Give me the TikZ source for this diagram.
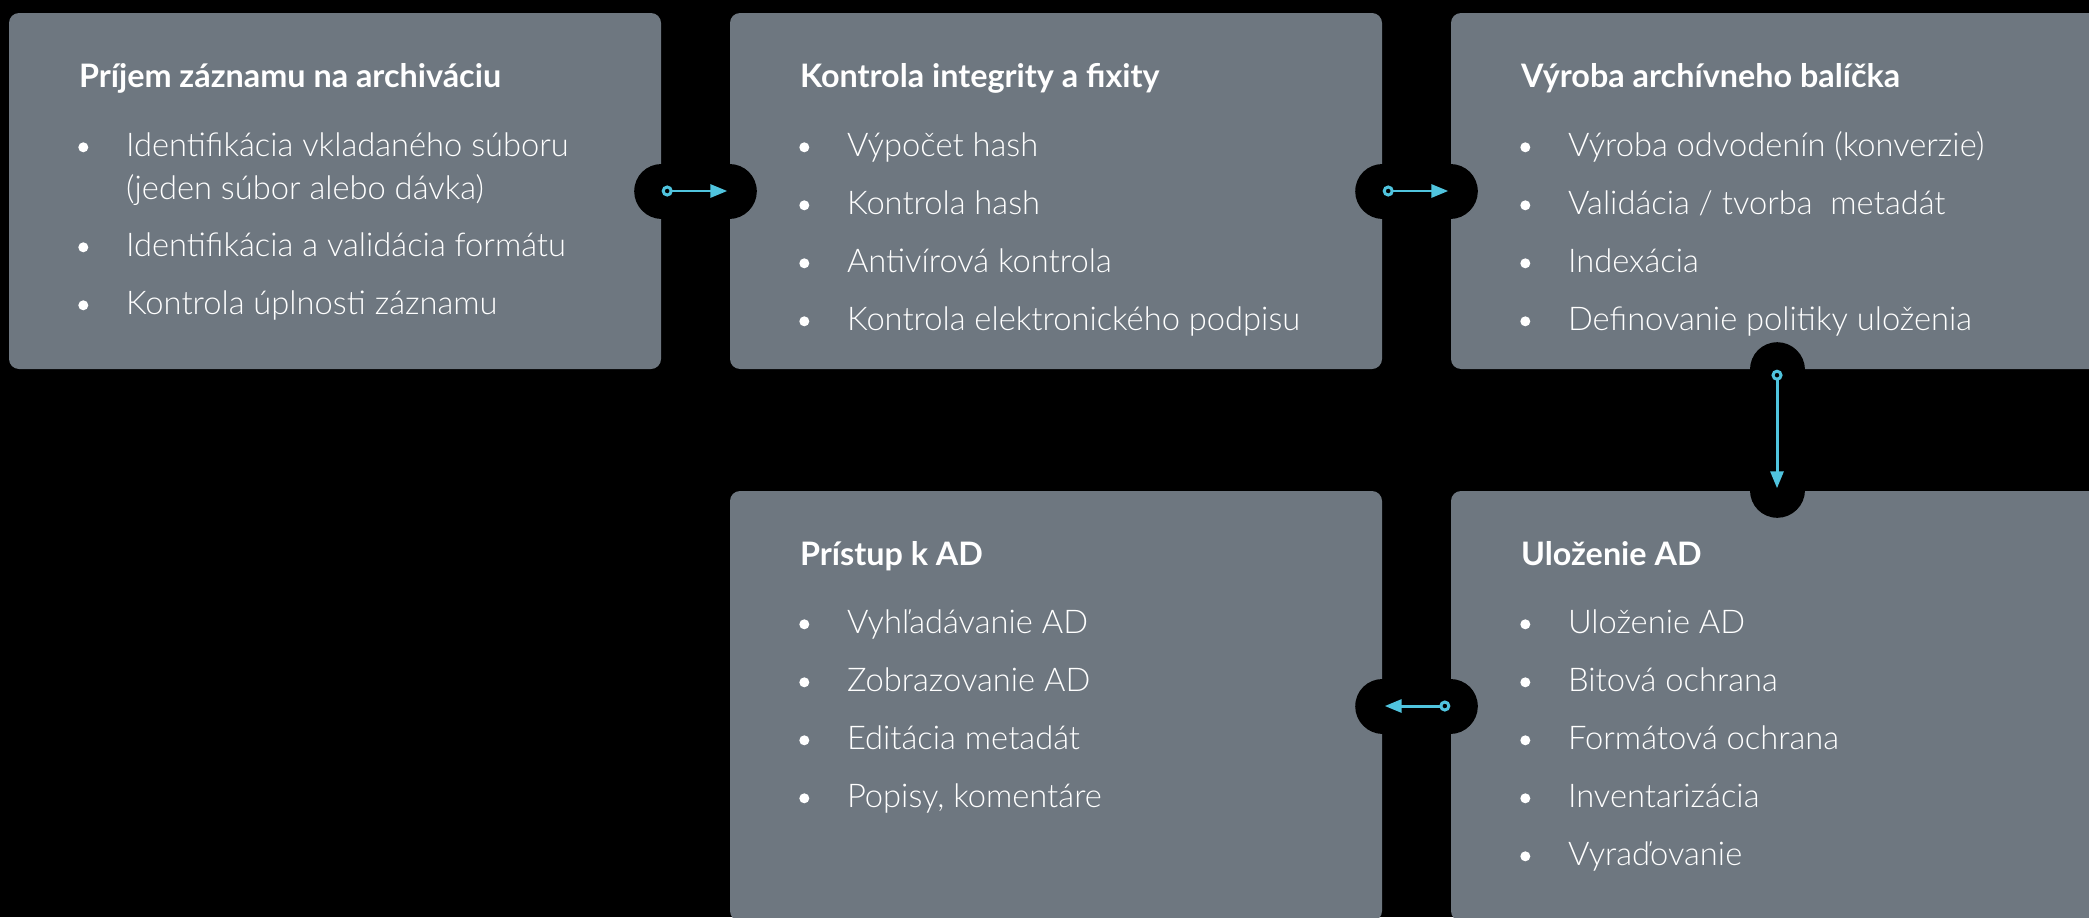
\documentclass[tikz,border=0pt]{standalone}
\usepackage{fontspec}
\setmainfont{Lato}[UprightFont={* Light},BoldFont={* Bold}]
\usetikzlibrary{arrows.meta}
\definecolor{boxgray}{RGB}{110,119,128}
\definecolor{linkblue}{RGB}{80,196,222}

\begin{document}
\begin{tikzpicture}[x=0.1mm,y=-0.1mm,line cap=round,line join=round,
	box/.style={fill=boxgray,rounded corners=1mm,minimum width=65.2mm,minimum height=35.6mm,inner sep=0pt},
	tallbox/.style={box,minimum height=43mm},
	plug/.style={black,line width=5.5mm},
	link/.style={draw=linkblue,line width=0.85pt,{Circle[open,length=1.1mm,width=1.1mm]}-{Triangle[length=1.7mm,width=1.3mm]}},
	head/.style={anchor=base west,inner sep=0pt,text=white,font=\bfseries\fontsize{9.2}{11}\selectfont},
	item/.style={anchor=base west,inner sep=0pt,text=white,font=\fontsize{9.3}{11}\selectfont}]
	\useasboundingbox (0,0) rectangle (2089,917);
	\fill[black] (0,0) rectangle (2089,917);
	\clip (0,0) rectangle (2089,917);
	\node[box] (b1) at (335,191) {};
	\node[box] (b2) at (1056,191) {};
	\node[box] (b3) at (1777,191) {};
	\node[tallbox] (b4) at (1056,706) {};
	\node[tallbox] (b5) at (1777,706) {};
	\draw[plug] (b1.east) -- (b2.west);
	\draw[plug] (b2.east) -- (b3.west);
	\draw[plug] (b3.south) -- (b5.north);
	\draw[plug] (b5.west) -- (b4.east);
	\draw[link,shorten >=0.2mm] (b1.east) -- (b2.west);
	\draw[link,shorten >=0.2mm] (b2.east) -- (b3.west);
	\draw[link,shorten >=0.2mm] (b3.south) -- (b5.north);
	\draw[link,shorten >=0.2mm] (b5.west) -- (b4.east);
	\node[head] (h1) at ([shift={(70,75)}]b1.north west) {Príjem záznamu na archiváciu};
	\node[head] (h2) at ([shift={(70,75)}]b2.north west) {Kontrola integrity a fixity};
	\node[head] (h3) at ([shift={(70,75)}]b3.north west) {Výroba archívneho balíčka};
	\node[head] (h4) at ([shift={(70,75)}]b4.north west) {Prístup k AD};
	\node[head] (h5) at ([shift={(70,75)}]b5.north west) {Uloženie AD};
	\node[item] (b1i0) at ([shift={(117,144)}]b1.north west) {Identifikácia vkladaného súboru};
	\node[item] (b1w0) at ([shift={(117,187)}]b1.north west) {(jeden súbor alebo dávka)};
	\node[item] (b1i1) at ([shift={(117,244)}]b1.north west) {Identifikácia a validácia formátu};
	\node[item] (b1i2) at ([shift={(117,302)}]b1.north west) {Kontrola úplnosti záznamu};
	\foreach \y in {144,244,302}
		\fill[white] ([shift={(75,\y-9)}]b1.north west) circle[radius=0.5mm];
	\foreach \t [count=\i from 0] in {Výpočet hash,Kontrola hash,Antivírová kontrola,Kontrola elektronického podpisu}{
		\node[item] (b2i\i) at ([shift={(117,144+58*\i)}]b2.north west) {\t};
		\fill[white] ([shift={(75,135+58*\i)}]b2.north west) circle[radius=0.5mm];
	}
	\foreach \t [count=\i from 0] in {Výroba odvodenín (konverzie),Validácia / tvorba\ \ metadát,Indexácia,Definovanie politiky uloženia}{
		\node[item] (b3i\i) at ([shift={(117,144+58*\i)}]b3.north west) {\t};
		\fill[white] ([shift={(75,135+58*\i)}]b3.north west) circle[radius=0.5mm];
	}
	\foreach \t [count=\i from 0] in {Vyhľadávanie AD,Zobrazovanie AD,Editácia metadát,{Popisy, komentáre}}{
		\node[item] (b4i\i) at ([shift={(117,143+58*\i)}]b4.north west) {\t};
		\fill[white] ([shift={(75,134+58*\i)}]b4.north west) circle[radius=0.5mm];
	}
	\foreach \t [count=\i from 0] in {Uloženie AD,Bitová ochrana,Formátová ochrana,Inventarizácia,Vyraďovanie}{
		\node[item] (b5i\i) at ([shift={(117,143+58*\i)}]b5.north west) {\t};
		\fill[white] ([shift={(75,134+58*\i)}]b5.north west) circle[radius=0.5mm];
	}
\end{tikzpicture}
\end{document}
